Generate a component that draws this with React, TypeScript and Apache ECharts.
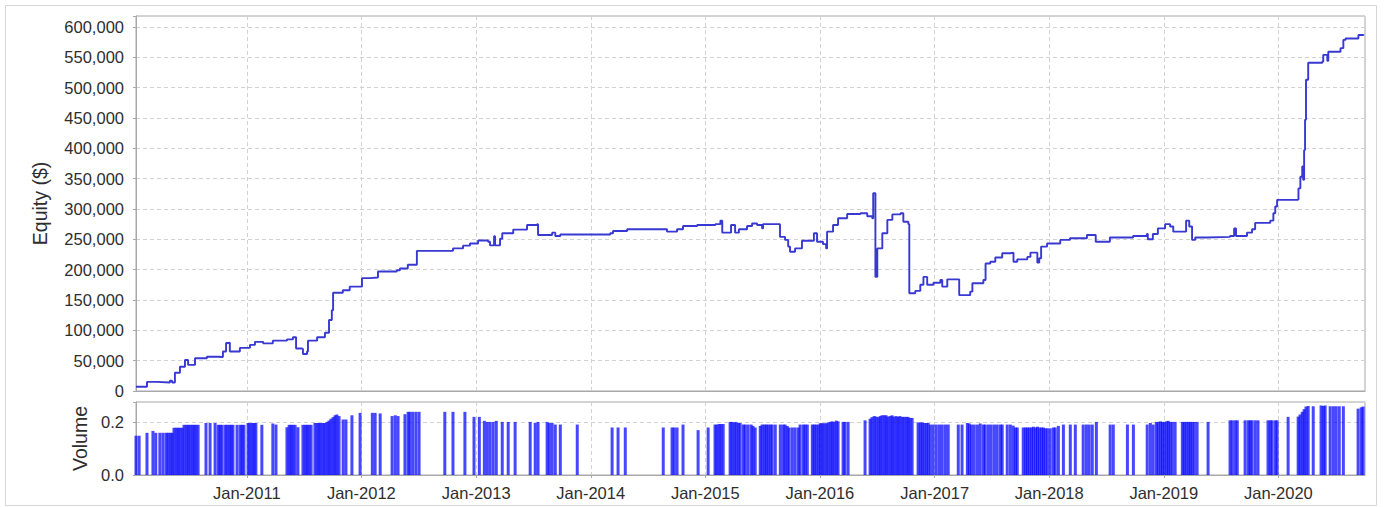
import React, { useEffect, useRef } from 'react';
import * as echarts from 'echarts';

const equityDates = [
  '2010-01-13','2010-02-17','2010-03-20','2010-05-01','2010-05-08','2010-05-17','2010-06-02','2010-06-18','2010-06-28','2010-07-20',
  '2010-08-27','2010-10-01','2010-10-17','2010-10-27','2010-11-05','2010-11-08','2010-12-10','2011-01-11','2011-01-27','2011-02-22',
  '2011-03-25','2011-05-09','2011-05-28','2011-06-07','2011-06-26','2011-06-29','2011-07-12','2011-07-15','2011-08-13','2011-09-07',
  '2011-09-20','2011-09-29','2011-10-03','2011-11-03','2011-11-25','2012-01-03','2012-01-28','2012-02-23','2012-04-23','2012-05-03',
  '2012-05-28','2012-06-26','2012-10-10','2012-10-19','2012-11-20','2012-12-12','2013-01-07','2013-02-08','2013-02-14','2013-02-27',
  '2013-03-02','2013-03-18','2013-03-25','2013-04-29','2013-06-12','2013-07-14','2013-07-17','2013-08-31','2013-09-10','2013-09-26',
  '2014-03-04','2014-03-13','2014-04-27','2014-09-01','2014-10-03','2014-10-22','2014-12-06','2015-02-02','2015-02-18','2015-02-24',
  '2015-03-24','2015-04-06','2015-04-18','2015-05-14','2015-05-30','2015-06-15','2015-07-01','2015-07-04','2015-08-27','2015-09-12',
  '2015-09-22','2015-09-28','2015-10-14','2015-11-05','2015-12-13','2015-12-23','2016-01-11','2016-01-21','2016-01-24','2016-02-12',
  '2016-02-28','2016-03-28','2016-05-09','2016-05-31','2016-06-16','2016-06-19','2016-06-26','2016-07-02','2016-07-18','2016-08-03',
  '2016-08-19','2016-09-14','2016-09-23','2016-10-09','2016-10-12','2016-10-31','2016-11-16','2016-11-26','2016-12-08','2016-12-28',
  '2017-01-19','2017-01-25','2017-02-10','2017-03-20','2017-04-24','2017-05-01','2017-06-05','2017-06-12','2017-06-27','2017-07-13',
  '2017-08-04','2017-08-30','2017-09-09','2017-09-21','2017-10-23','2017-11-02','2017-11-24','2017-11-30','2017-12-06','2017-12-25',
  '2018-02-05','2018-03-08','2018-05-01','2018-05-29','2018-07-13','2018-09-25','2018-11-08','2018-11-11','2018-11-27','2018-12-13',
  '2019-01-05','2019-01-21','2019-01-31','2019-03-13','2019-03-23','2019-04-01','2019-04-11','2019-05-19','2019-07-31','2019-08-13',
  '2019-08-19','2019-09-23','2019-10-09','2019-10-19','2019-12-06','2019-12-16','2019-12-22','2019-12-28','2020-03-02','2020-03-05',
  '2020-03-11','2020-03-17','2020-03-20','2020-03-23','2020-03-26','2020-03-29','2020-04-05','2020-05-20','2020-05-23','2020-06-05',
  '2020-06-08','2020-07-17','2020-07-26','2020-08-02','2020-09-12','2020-09-28'
];
const equityValues = [
  7000,15000,14000,17000,14000,30000,40000,51000,43000,54000,
  56500,56000,65000,79000,80000,65000,71000,76000,81000,78500,
  83000,85000,88500,70000,69000,61000,65000,83000,88500,96000,
  117000,133000,162000,166000,172000,186000,187000,197000,199000,202000,
  208000,231000,231000,235000,239500,243000,248000,246000,240000,255000,
  240000,251000,260000,266000,273500,275000,257000,261000,255500,258000,
  260000,263700,266500,262600,266500,272000,273600,275000,280700,261000,
  273600,261000,266500,272000,276000,273600,268000,275000,254000,249000,
  238000,229600,235000,247700,260000,246000,242000,235000,262600,273600,
  284600,291700,293000,288000,284600,326000,188000,235000,260000,282000,
  291000,293000,279000,275000,161000,165000,175000,188000,175000,178500,
  183000,172000,184000,158000,163700,177500,183000,210000,213000,220000,
  227000,228000,213000,217000,221000,228000,211500,218700,238000,243000,
  249000,251700,257000,246000,253000,255500,258800,250000,258800,268000,
  275000,271000,262600,280700,271000,249000,253000,254000,255500,268000,
  255500,261000,266500,277000,280700,293000,304000,315000,316000,334000,
  353000,370000,348000,397000,447000,513000,541000,543000,554000,544000,
  559000,565000,578600,581000,586800,588000
];

const volumeDates = [
  '2010-01-13','2010-01-23','2010-02-17','2010-03-08','2010-03-17','2010-03-30','2010-04-09','2010-04-19','2010-04-25','2010-05-02',
  '2010-05-08','2010-05-14','2010-05-21','2010-05-27','2010-06-02','2010-06-09','2010-06-15','2010-06-22','2010-06-28','2010-07-04',
  '2010-07-11','2010-07-17','2010-07-23','2010-07-30','2010-08-24','2010-09-06','2010-09-22','2010-10-02','2010-10-08','2010-10-14',
  '2010-10-24','2010-10-30','2010-11-06','2010-11-12','2010-11-18','2010-12-01','2010-12-11','2010-12-17','2010-12-23',
  '2011-01-05','2011-01-11','2011-01-18','2011-01-24','2011-01-30','2011-02-18','2011-03-25','2011-04-04','2011-05-09','2011-05-16',
  '2011-05-22','2011-05-28','2011-06-04','2011-06-13','2011-06-29','2011-07-06','2011-07-12','2011-07-18','2011-07-25','2011-08-06',
  '2011-08-13','2011-08-19','2011-08-25','2011-09-01','2011-09-07','2011-09-14','2011-09-20','2011-09-26','2011-10-03','2011-10-09',
  '2011-10-15','2011-10-22','2011-11-04','2011-11-13','2011-12-02','2011-12-28',
  '2012-02-05','2012-02-14','2012-03-01','2012-04-08','2012-04-18','2012-04-27','2012-05-19','2012-05-29','2012-06-04','2012-06-13',
  '2012-06-23','2012-07-03','2012-09-23','2012-10-19','2012-11-26','2012-12-25',
  '2013-01-11','2013-01-27','2013-02-05','2013-02-14','2013-02-24','2013-03-06','2013-03-25','2013-04-13','2013-05-05','2013-06-22',
  '2013-07-08','2013-07-17','2013-08-15','2013-08-22','2013-08-31','2013-09-10','2013-09-26','2013-11-19',
  '2014-03-10','2014-03-29','2014-04-21','2014-08-20','2014-09-17','2014-09-24','2014-10-03','2014-10-22','2014-12-09',
  '2015-01-10','2015-02-01','2015-02-07','2015-02-14','2015-02-20','2015-02-27','2015-03-21','2015-03-27','2015-04-03','2015-04-09',
  '2015-04-16','2015-04-22','2015-05-02','2015-05-08','2015-05-17','2015-05-27','2015-06-02','2015-06-09','2015-06-25','2015-07-01',
  '2015-07-08','2015-07-14','2015-07-20','2015-07-27','2015-08-02','2015-08-12','2015-08-28','2015-09-06','2015-09-12','2015-09-19',
  '2015-09-25','2015-10-05','2015-10-14','2015-10-24','2015-10-30','2015-11-09','2015-11-15','2015-11-22','2015-12-08','2015-12-14',
  '2015-12-20','2015-12-27',
  '2016-01-02','2016-01-08','2016-01-14','2016-01-21','2016-01-27','2016-02-03','2016-02-09','2016-02-15','2016-02-22','2016-02-28',
  '2016-03-15','2016-03-21','2016-03-31','2016-05-24','2016-06-09','2016-06-15','2016-06-22','2016-06-28','2016-07-05','2016-07-11',
  '2016-07-17','2016-07-24','2016-07-30','2016-08-05','2016-08-12','2016-08-18','2016-08-24','2016-08-31','2016-09-06','2016-09-12',
  '2016-09-19','2016-09-25','2016-10-02','2016-10-08','2016-10-14','2016-10-21','2016-11-09','2016-11-16','2016-11-22','2016-11-28',
  '2016-12-05','2016-12-11','2016-12-18','2016-12-27',
  '2017-01-06','2017-01-16','2017-01-25','2017-02-04','2017-02-13','2017-03-17','2017-03-29','2017-04-15','2017-04-21','2017-04-28',
  '2017-05-07','2017-05-17','2017-05-26','2017-06-05','2017-06-11','2017-06-21','2017-06-30','2017-07-10','2017-07-19','2017-07-29',
  '2017-08-04','2017-08-20','2017-08-30','2017-09-08','2017-09-15','2017-09-21','2017-10-10','2017-10-17','2017-10-23','2017-10-29',
  '2017-11-05','2017-11-11','2017-11-18','2017-11-24','2017-11-30','2017-12-07','2017-12-13','2017-12-19','2017-12-26',
  '2018-01-04','2018-01-14','2018-01-20','2018-01-30','2018-02-15','2018-03-09','2018-03-25','2018-04-19','2018-04-29','2018-05-08',
  '2018-05-18','2018-05-31','2018-07-14','2018-07-24','2018-09-07','2018-09-26','2018-11-09','2018-11-19','2018-11-28','2018-12-08',
  '2018-12-14','2018-12-21','2018-12-27',
  '2019-01-02','2019-01-09','2019-01-15','2019-01-21','2019-01-28','2019-02-06','2019-03-01','2019-03-07','2019-03-13','2019-03-20',
  '2019-03-26','2019-04-01','2019-04-08','2019-04-17','2019-05-22','2019-07-31','2019-08-07','2019-08-16','2019-08-23','2019-09-17',
  '2019-09-27','2019-10-03','2019-10-09','2019-10-19','2019-10-28','2019-11-29','2019-12-06','2019-12-12','2019-12-22','2019-12-28',
  '2020-02-01','2020-03-04','2020-03-10','2020-03-17','2020-03-23','2020-03-29','2020-04-05','2020-04-21','2020-05-16','2020-05-23',
  '2020-05-29','2020-06-14','2020-06-24','2020-07-03','2020-07-13','2020-07-26','2020-09-11','2020-09-21','2020-09-27'
];
const volumeValues = [
  0.148,0.148,0.159,0.166,0.159,0.159,0.159,0.159,0.159,0.159,
  0.159,0.178,0.178,0.178,0.178,0.178,0.189,0.189,0.189,0.189,
  0.189,0.189,0.189,0.189,0.196,0.196,0.196,0.189,0.189,0.189,
  0.189,0.189,0.189,0.189,0.189,0.189,0.189,0.189,0.189,
  0.196,0.196,0.196,0.196,0.196,0.189,0.194,0.19,0.18,0.189,
  0.189,0.189,0.189,0.18,0.189,0.189,0.189,0.189,0.189,0.196,
  0.196,0.196,0.196,0.196,0.196,0.2,0.205,0.212,0.218,0.225,
  0.228,0.222,0.209,0.209,0.225,0.234,
  0.234,0.234,0.232,0.222,0.225,0.222,0.229,0.238,0.238,0.238,
  0.238,0.238,0.238,0.238,0.238,0.219,
  0.219,0.204,0.2,0.2,0.2,0.204,0.2,0.2,0.2,0.2,
  0.196,0.2,0.2,0.196,0.196,0.19,0.19,0.19,
  0.179,0.179,0.179,0.179,0.179,0.179,0.179,0.19,0.169,
  0.179,0.19,0.19,0.192,0.192,0.192,0.2,0.2,0.198,0.2,
  0.196,0.196,0.19,0.19,0.19,0.19,0.185,0.179,0.185,0.19,
  0.19,0.19,0.19,0.19,0.19,0.19,0.19,0.19,0.19,0.185,
  0.179,0.179,0.179,0.179,0.19,0.19,0.19,0.19,0.19,0.19,
  0.19,0.19,
  0.195,0.195,0.195,0.195,0.198,0.2,0.202,0.2,0.205,0.202,
  0.2,0.2,0.2,0.206,0.212,0.218,0.222,0.22,0.218,0.222,
  0.225,0.225,0.225,0.22,0.222,0.225,0.22,0.222,0.219,0.222,
  0.219,0.219,0.219,0.219,0.215,0.215,0.198,0.198,0.198,0.196,
  0.196,0.196,0.19,0.19,
  0.19,0.19,0.19,0.19,0.19,0.19,0.19,0.196,0.194,0.19,
  0.19,0.19,0.194,0.19,0.19,0.19,0.19,0.19,0.19,0.19,
  0.19,0.19,0.19,0.186,0.179,0.179,0.179,0.179,0.179,0.179,
  0.179,0.182,0.179,0.182,0.179,0.179,0.179,0.176,0.176,
  0.176,0.179,0.179,0.185,0.19,0.19,0.19,0.19,0.19,0.19,
  0.19,0.2,0.19,0.19,0.19,0.19,0.19,0.196,0.19,0.2,
  0.2,0.202,0.2,
  0.2,0.202,0.204,0.2,0.2,0.2,0.2,0.2,0.2,0.2,
  0.2,0.2,0.2,0.2,0.2,0.206,0.206,0.206,0.206,0.206,
  0.206,0.206,0.206,0.206,0.206,0.206,0.206,0.206,0.206,0.206,
  0.219,0.22,0.228,0.238,0.248,0.258,0.26,0.259,0.262,0.26,
  0.262,0.259,0.259,0.259,0.259,0.259,0.25,0.255,0.258
];

const tickYears = [2011, 2012, 2013, 2014, 2015, 2016, 2017, 2018, 2019, 2020];
const xStart = '2010-01-13';
const xEnd = '2020-10-03';
const equityMax = 618000;
const volumeMax = 0.275;

function toTime(s: string): number {
  const [y, m, d] = s.split('-').map(Number);
  return Date.UTC(y, m - 1, d);
}

const FONT = '"Liberation Sans", Arial, sans-serif';
const TEXT = '#2e2e2e';
const GRIDLINE = { color: '#d2d2d2', type: [4, 3] as number[], width: 1 };

export default function App() {
  const ref = useRef<HTMLDivElement>(null);
  useEffect(() => {
    if (!ref.current) return;
    const chart = echarts.init(ref.current, null, { renderer: 'svg' });
    const tickTimes = tickYears.map((y) => Date.UTC(y, 0, 1));
    const xMin = toTime(xStart);
    const xMax = toTime(xEnd);
    const equityData = equityDates.map((d, i) => [toTime(d), equityValues[i]]);
    const volumeData = volumeDates.map((d, i) => [toTime(d), volumeValues[i]]);

    const xCommon = {
      type: 'value',
      min: xMin,
      max: xMax,
      axisLine: { show: true, lineStyle: { color: '#a8a8a8' } },
      splitLine: { show: true, lineStyle: GRIDLINE },
    };

    chart.setOption({
      animation: false,
      textStyle: { fontFamily: FONT },
      graphic: [
        {
          type: 'rect',
          silent: true,
          shape: { x: 5.5, y: 5.5, width: 1371, height: 500 },
          style: { fill: 'none', stroke: '#d6d6d6', lineWidth: 1 },
        },
      ],
      grid: [
        { left: 136, top: 16, width: 1229, height: 375, show: true, borderColor: '#a8a8a8', borderWidth: 1, backgroundColor: '#ffffff' },
        { left: 136, top: 402, width: 1229, height: 73, show: true, borderColor: '#a8a8a8', borderWidth: 1, backgroundColor: '#ffffff' },
      ],
      xAxis: [
        {
          ...xCommon,
          gridIndex: 0,
          axisTick: { show: false, customValues: tickTimes },
          axisLabel: { show: false, customValues: tickTimes },
        },
        {
          ...xCommon,
          gridIndex: 1,
          axisTick: { show: true, length: 3, lineStyle: { color: '#a8a8a8' }, customValues: tickTimes },
          axisLabel: {
            show: true,
            customValues: tickTimes,
            fontSize: 16.5,
            color: TEXT,
            fontFamily: FONT,
            margin: 9,
            formatter: (v: number) => 'Jan-' + new Date(v).getUTCFullYear(),
          },
        },
      ],
      yAxis: [
        {
          type: 'value',
          gridIndex: 0,
          min: 0,
          max: equityMax,
          interval: 50000,
          name: 'Equity ($)',
          nameLocation: 'middle',
          nameGap: 86,
          nameTextStyle: { fontSize: 19.5, color: TEXT, fontFamily: FONT },
          axisLine: { show: true, lineStyle: { color: '#a8a8a8' } },
          axisTick: { show: true, length: 3, lineStyle: { color: '#a8a8a8' } },
          axisLabel: {
            fontSize: 16.5,
            color: TEXT,
            fontFamily: FONT,
            margin: 12,
            formatter: (v: number) => (v % 50000 === 0 ? v.toLocaleString('en-US') : ''),
          },
          splitLine: { show: true, lineStyle: GRIDLINE },
        },
        {
          type: 'value',
          gridIndex: 1,
          min: 0,
          max: volumeMax,
          interval: 0.2,
          name: 'Volume',
          nameLocation: 'middle',
          nameGap: 46,
          nameTextStyle: { fontSize: 19.5, color: TEXT, fontFamily: FONT },
          axisLine: { show: true, lineStyle: { color: '#a8a8a8' } },
          axisTick: { show: true, length: 3, lineStyle: { color: '#a8a8a8' } },
          axisLabel: {
            fontSize: 16.5,
            color: TEXT,
            fontFamily: FONT,
            margin: 12,
            formatter: (v: number) => (Math.abs(v - Math.round(v / 0.2) * 0.2) < 1e-9 ? v.toFixed(1) : ''),
          },
          splitLine: { show: true, lineStyle: GRIDLINE },
        },
      ],
      series: [
        {
          type: 'line',
          name: 'Equity',
          xAxisIndex: 0,
          yAxisIndex: 0,
          data: equityData,
          step: 'end',
          showSymbol: false,
          symbol: 'none',
          lineStyle: { color: '#3838d2', width: 1.9 },
          z: 3,
        },
        {
          type: 'bar',
          name: 'Volume',
          xAxisIndex: 1,
          yAxisIndex: 1,
          data: volumeData,
          barWidth: 3,
          itemStyle: { color: 'rgba(0,0,255,0.72)' },
        },
      ],
    });
    return () => chart.dispose();
  }, []);

  return (
    <div
      ref={ref}
      style={{ position: 'fixed', left: 0, top: 0, width: 1385, height: 507, background: '#ffffff' }}
    />
  );
}
